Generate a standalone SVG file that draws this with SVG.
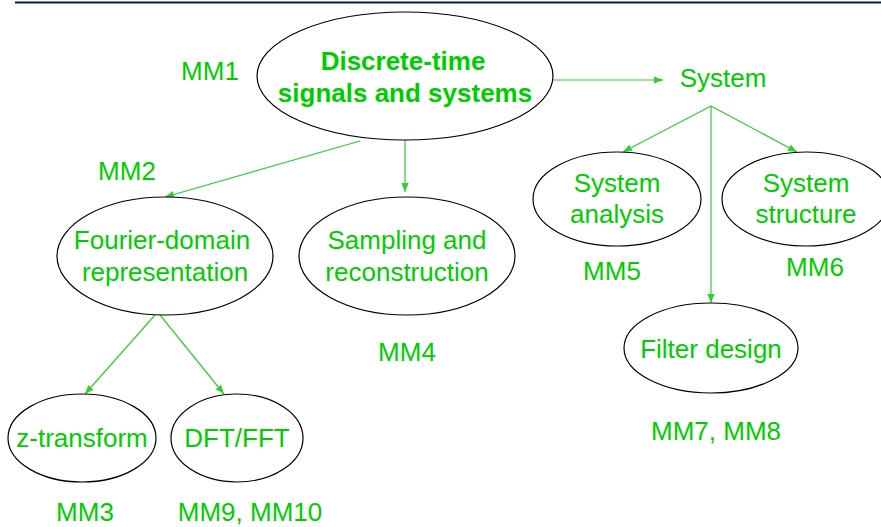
<svg xmlns="http://www.w3.org/2000/svg" width="881" height="527" viewBox="0 0 881 527">
<style>
.n{fill:#fff;stroke:#000;stroke-width:1.2}
.t{font-family:"Liberation Sans",Arial,sans-serif;font-size:26px;fill:#00cc00;text-anchor:middle}
.b{font-weight:bold}
.c{stroke:#33cc33;stroke-width:1.2;fill:none;marker-end:url(#ah)}
</style>
<defs>
<marker id="ah" viewBox="0 0 10 10" refX="10" refY="5" markerWidth="9" markerHeight="9" markerUnits="userSpaceOnUse" orient="auto">
<path d="M0,1 L10,5 L0,9 Z" fill="#33cc33"/>
</marker>
</defs>
<rect width="881" height="527" fill="#fff"/>
<line x1="15" y1="2.5" x2="881" y2="2.5" stroke="#0a1a50" stroke-width="2"/>
<g id="connectors">
<line class="c" x1="553" y1="80" x2="663" y2="80"/>
<line class="c" x1="360" y1="141" x2="165" y2="197"/>
<line class="c" x1="405" y1="140" x2="405" y2="192"/>
<line class="c" x1="711" y1="106" x2="623" y2="152"/>
<line class="c" x1="711" y1="106" x2="797" y2="152"/>
<line class="c" x1="711" y1="106" x2="711" y2="303"/>
<line class="c" x1="155" y1="315" x2="85" y2="394"/>
<line class="c" x1="160" y1="315" x2="224" y2="394"/>
</g>
<g id="main">
<ellipse class="n" cx="405" cy="76" rx="148" ry="64"/>
<text class="t b" x="403" y="70">Discrete-time</text>
<text class="t b" x="405" y="102">signals and systems</text>
</g>
<g id="mm1"><text class="t" x="210" y="80">MM1</text></g>
<g id="system"><text class="t" x="723" y="87">System</text></g>
<g id="mm2"><text class="t" x="127" y="180">MM2</text></g>
<g id="fourier">
<ellipse class="n" cx="165" cy="256" rx="108" ry="59"/>
<text class="t" x="162" y="249">Fourier-domain</text>
<text class="t" x="165" y="281">representation</text>
</g>
<g id="sampling">
<ellipse class="n" cx="407" cy="256" rx="108" ry="59"/>
<text class="t" x="407" y="249">Sampling and</text>
<text class="t" x="407" y="281">reconstruction</text>
</g>
<g id="mm4"><text class="t" x="407" y="361">MM4</text></g>
<g id="analysis">
<ellipse class="n" cx="617" cy="199" rx="84" ry="47"/>
<text class="t" x="617" y="192">System</text>
<text class="t" x="617" y="223">analysis</text>
</g>
<g id="mm5"><text class="t" x="612" y="280">MM5</text></g>
<g id="structure">
<ellipse class="n" cx="806" cy="199" rx="84" ry="47"/>
<text class="t" x="806" y="192">System</text>
<text class="t" x="806" y="223">structure</text>
</g>
<g id="mm6"><text class="t" x="815" y="276">MM6</text></g>
<g id="filter">
<ellipse class="n" cx="711" cy="348" rx="87" ry="45"/>
<text class="t" x="711" y="358">Filter design</text>
</g>
<g id="mm78"><text class="t" x="716" y="440">MM7, MM8</text></g>
<g id="ztrans">
<ellipse class="n" cx="82" cy="438" rx="74" ry="44"/>
<text class="t" x="82" y="447">z-transform</text>
</g>
<g id="dft">
<ellipse class="n" cx="237" cy="438" rx="66" ry="44"/>
<text class="t" x="237" y="447">DFT/FFT</text>
</g>
<g id="mm3"><text class="t" x="85" y="521">MM3</text></g>
<g id="mm910"><text class="t" x="250" y="521">MM9, MM10</text></g>
</svg>
